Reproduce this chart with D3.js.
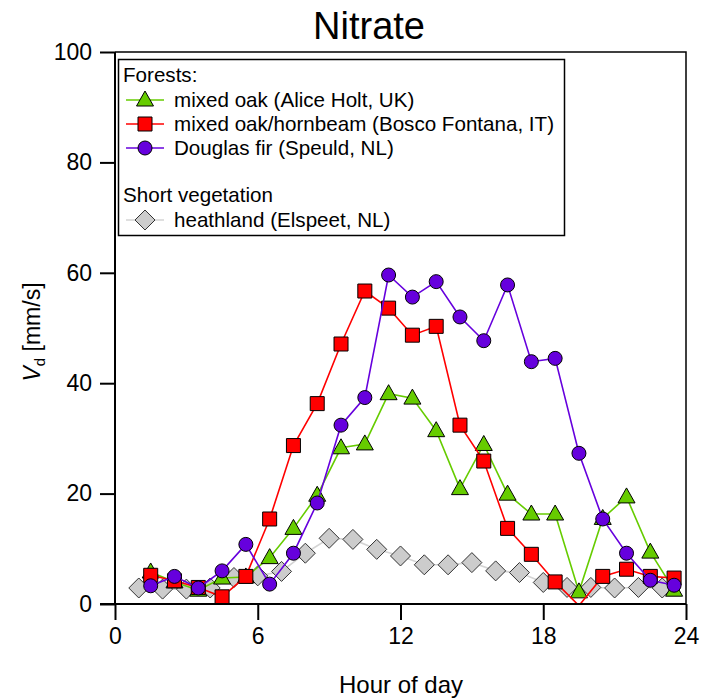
<!DOCTYPE html>
<html>
<head>
<meta charset="utf-8">
<script src="https://cdn.jsdelivr.net/npm/d3@7"></script>
<style>
    body { margin: 0; background: #fff; }
    svg { font-family: "Liberation Sans", Arial, sans-serif; }
</style>
</head>
<body>
<script>
// hours of day (half hour bins for the forest sites, whole hours for heathland)
let hoursForest = [1.5, 2.5, 3.5, 4.5, 5.5, 6.5, 7.5, 8.5, 9.5, 10.5, 11.5, 12.5,
    13.5, 14.5, 15.5, 16.5, 17.5, 18.5, 19.5, 20.5, 21.5, 22.5, 23.5];
let hoursHeath = [1, 2, 3, 4, 5, 6, 7, 8, 9, 10, 11, 12,
    13, 14, 15, 16, 17, 18, 19, 20, 21, 22, 23];

// Vd [mm/s]
let aliceHolt = [5.8, 4.0, 2.5, 4.7, 4.9, 8.4, 13.7, 19.7, 28.3, 29.0, 38.1, 37.3,
    31.4, 20.9, 28.9, 19.9, 16.3, 16.3, 2.2, 15.5, 19.4, 9.4, 2.5];
let boscoFontana = [5.2, 4.2, 3.0, 1.3, 5.0, 15.4, 28.7, 36.3, 47.1, 56.7, 53.6, 48.7,
    50.3, 32.4, 25.9, 13.7, 9.0, 4.0, -0.3, 5.0, 6.3, 5.0, 4.7];
let speuld = [3.3, 5.0, 2.9, 6.0, 10.8, 3.6, 9.2, 18.3, 32.4, 37.4, 59.6, 55.6,
    58.4, 52.0, 47.7, 57.8, 43.9, 44.5, 27.3, 15.4, 9.2, 4.3, 3.4];
let elspeet = [2.9, 2.7, 2.7, 2.9, 4.8, 5.1, 5.9, 9.2, 11.9, 11.7, 9.9, 8.7,
    7.1, 7.1, 7.5, 6.0, 5.7, 3.9, 3.0, 3.0, 2.9, 3.0, 2.9];

let xTicks = [0, 6, 12, 18, 24];
let yTicks = [0, 20, 40, 60, 80, 100];

let series = [
    { name: "heathland (Elspeet, NL)", x: hoursHeath, y: elspeet, shape: "diamond", fill: "#cccccc", line: "#d4d4d4", edge: "#333" },
    { name: "mixed oak (Alice Holt, UK)", x: hoursForest, y: aliceHolt, shape: "triangle", fill: "#66cc00", line: "#66cc00", edge: "#000" },
    { name: "mixed oak/hornbeam (Bosco Fontana, IT)", x: hoursForest, y: boscoFontana, shape: "square", fill: "#ff0000", line: "#ff0000", edge: "#000" },
    { name: "Douglas fir (Speuld, NL)", x: hoursForest, y: speuld, shape: "circle", fill: "#6600dd", line: "#6600dd", edge: "#000" }
];

run();

function run() {
    let width = 702;
    let height = 699;
    let left = 115, right = 686, top = 52, bottom = 604;

    let svg = d3.select("body")
        .append("svg")
        .attr("width", width)
        .attr("height", height);

    let x = d3.scaleLinear().domain([0, 24]).range([left, right]);
    let y = d3.scaleLinear().domain([0, 100]).range([bottom, top]);

    svg.append("clipPath")
        .attr("id", "plot-clip")
        .append("rect")
        .attr("x", left)
        .attr("y", top)
        .attr("width", right - left)
        .attr("height", bottom - top);

    // frame (mirror lines, no ticks)
    svg.append("path")
        .attr("d", "M" + left + "," + top + "H" + right + "V" + bottom)
        .attr("fill", "none")
        .attr("stroke", "#000")
        .attr("stroke-width", 1.5);

    let plot = svg.append("g").attr("clip-path", "url(#plot-clip)");

    series.forEach(function (s) {
        let pts = s.x.map(function (h, i) { return [h, s.y[i]]; });
        plot.append("path")
            .datum(pts)
            .attr("fill", "none")
            .attr("stroke", s.line)
            .attr("stroke-width", 1.6)
            .attr("d", d3.line()
                .x(function (d) { return x(d[0]); })
                .y(function (d) { return y(d[1]); }));

        // markers whose centre is off the axis range are not drawn
        let shown = pts.filter(function (d) { return d[1] >= 0; });
        plot.selectAll(null)
            .data(shown)
            .enter()
            .append("path")
            .attr("d", markerPath(s.shape))
            .attr("transform", function (d) {
                return "translate(" + x(d[0]) + "," + y(d[1]) + ")";
            })
            .attr("fill", s.fill)
            .attr("stroke", s.edge)
            .attr("stroke-width", 1);
    });

    // axes
    let xAxis = svg.append("g")
        .attr("transform", "translate(0," + bottom + ")")
        .call(d3.axisBottom(x).tickValues(xTicks).tickSize(16).tickPadding(8).tickSizeOuter(0));
    let yAxis = svg.append("g")
        .attr("transform", "translate(" + left + ",0)")
        .call(d3.axisLeft(y).tickValues(yTicks).tickSize(15).tickPadding(8).tickSizeOuter(0));

    [xAxis, yAxis].forEach(function (ax) {
        ax.select(".domain").attr("stroke-width", 2);
        ax.selectAll(".tick line").attr("stroke-width", 2);
        ax.selectAll("text")
            .attr("font-family", "Liberation Sans, Arial, sans-serif")
            .attr("font-size", 23)
            .attr("fill", "#000");
    });
    // x axis line runs left to the y tick labels like the zero tick
    xAxis.select(".domain").attr("d", "M" + (left - 15) + ",0H" + right);
    yAxis.select(".domain").attr("d", "M0," + top + "V" + bottom);

    // titles
    svg.append("text")
        .attr("x", 369)
        .attr("y", 39)
        .attr("text-anchor", "middle")
        .attr("font-size", 38)
        .text("Nitrate");

    svg.append("text")
        .attr("x", 401)
        .attr("y", 693)
        .attr("text-anchor", "middle")
        .attr("font-size", 24)
        .text("Hour of day");

    let ylab = svg.append("text")
        .attr("transform", "translate(40,332) rotate(-90)")
        .attr("text-anchor", "middle")
        .attr("font-size", 23);
    ylab.append("tspan").attr("font-style", "italic").text("V");
    ylab.append("tspan").attr("font-size", 15).attr("dy", 5).text("d");
    ylab.append("tspan").attr("dy", -5).text(" [mm/s]");

    drawLegend(svg);
}

function markerPath(shape) {
    if (shape === "circle")
        return d3.symbol().type(d3.symbolCircle).size(Math.PI * 7 * 7)();
    if (shape === "square")
        return "M-7,-7H7V7H-7Z";
    if (shape === "triangle")
        return "M0,-9L8.5,6H-8.5Z";
    return "M0,-10L10,0L0,10L-10,0Z";
}

function drawLegend(svg) {
    let g = svg.append("g");
    g.append("rect")
        .attr("x", 118.5)
        .attr("y", 59.5)
        .attr("width", 446)
        .attr("height", 176)
        .attr("fill", "#fff")
        .attr("stroke", "#000")
        .attr("stroke-width", 1.5);

    let rows = [
        { text: "Forests:", cy: 75 },
        { text: series[1].name, cy: 100, s: series[1] },
        { text: series[2].name, cy: 124, s: series[2] },
        { text: series[3].name, cy: 148, s: series[3] },
        { text: "Short vegetation", cy: 195 },
        { text: series[0].name, cy: 220, s: series[0] }
    ];

    rows.forEach(function (r) {
        if (r.s) {
            g.append("line")
                .attr("x1", 126).attr("x2", 164)
                .attr("y1", r.cy).attr("y2", r.cy)
                .attr("stroke", r.s.line)
                .attr("stroke-width", 1.6);
            g.append("path")
                .attr("d", markerPath(r.s.shape))
                .attr("transform", "translate(145," + r.cy + ")")
                .attr("fill", r.s.fill)
                .attr("stroke", r.s.edge)
                .attr("stroke-width", 1);
        }
        g.append("text")
            .attr("x", r.s ? 174 : 123)
            .attr("y", r.cy + 7)
            .attr("font-size", 20.6)
            .text(r.text);
    });
}
</script>
</body>
</html>
